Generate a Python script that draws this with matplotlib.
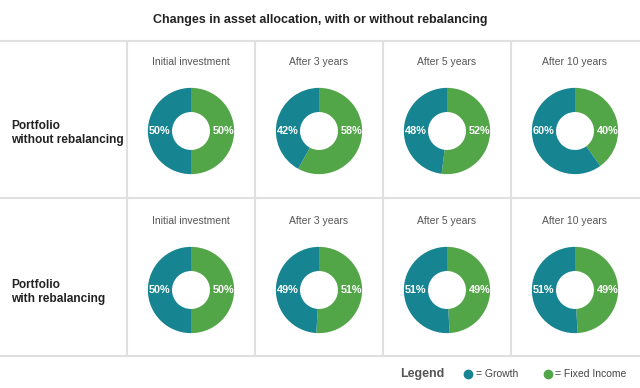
import matplotlib
matplotlib.use('Agg')
import matplotlib.pyplot as plt
from matplotlib.lines import Line2D

plt.rcParams['font.family'] = ['Liberation Sans', 'DejaVu Sans']

title = "Changes in asset allocation, with or without rebalancing"
periods = ["Initial investment", "After 3 years", "After 5 years", "After 10 years"]
rows = ["Portfolio\nwithout rebalancing", "Portfolio\nwith rebalancing"]
growth_without = [50, 42, 48, 60]
fixed_without = [50, 58, 52, 40]
growth_with = [50, 49, 51, 51]
fixed_with = [50, 51, 49, 49]

TEAL = '#168491'
GREEN = '#53a648'
GRID = '#e0e0e0'

W, H = 640, 388
fig = plt.figure(figsize=(W / 100, H / 100), dpi=100)


def fx(px):
    return px / W


def fy(py):
    return 1 - py / H


# grid lines
for y in [41, 198, 356]:
    fig.add_artist(Line2D([0, 1], [fy(y), fy(y)], color=GRID, lw=1.5, transform=fig.transFigure))
col_edges = [127, 255, 383, 511]
for x in col_edges:
    fig.add_artist(Line2D([fx(x), fx(x)], [fy(41), fy(356)], color=GRID, lw=1.5, transform=fig.transFigure))

fig.text(0.5, fy(20), title, ha='center', va='center', fontsize=9, fontweight='bold', color='#222222')

col_centers = [191, 319, 447, 575]
row_centers = [131, 290]
row_labels_y = [133, 292]
data = [(growth_without, fixed_without), (growth_with, fixed_with)]
R = 44

for r in range(2):
    fig.text(fx(11), fy(row_labels_y[r]), rows[r], ha='left', va='center', fontsize=8.6,
             fontweight='bold', color='#222222', linespacing=1.25)
    growth, fixed = data[r]
    for c in range(4):
        cx, cy = col_centers[c], row_centers[r]
        fig.text(fx(cx), fy(cy - 69), periods[c], ha='center', va='center', fontsize=7.5, color='#555555')
        ax = fig.add_axes([fx(cx - R), fy(cy + R), 2 * R / W, 2 * R / H])
        ax.pie([fixed[c], growth[c]], colors=[GREEN, TEAL], startangle=90, counterclock=False,
               radius=1, wedgeprops=dict(width=0.56, edgecolor='none'))
        ax.text(-0.73, 0, f"{growth[c]}%", ha='center', va='center', color='white',
                fontsize=7.8, fontweight='bold')
        ax.text(0.75, 0, f"{fixed[c]}%", ha='center', va='center', color='white',
                fontsize=7.8, fontweight='bold')
        ax.set_xlim(-1.02, 1.02)
        ax.set_ylim(-1.02, 1.02)
        ax.axis('off')

# legend
fig.text(fx(422), fy(374), "Legend", ha='center', va='center', fontsize=9, fontweight='bold', color='#555555')
fig.add_artist(Line2D([fx(468)], [fy(374)], marker='o', markersize=6, color=TEAL, lw=0,
                      transform=fig.transFigure))
fig.text(fx(476), fy(374), "= Growth", ha='left', va='center', fontsize=7.5, color='#444444')
fig.add_artist(Line2D([fx(548)], [fy(374)], marker='o', markersize=6, color=GREEN, lw=0,
                      transform=fig.transFigure))
fig.text(fx(555), fy(374), "= Fixed Income", ha='left', va='center', fontsize=7.5, color='#444444')

plt.savefig('out.png', dpi=100)
plt.close()
